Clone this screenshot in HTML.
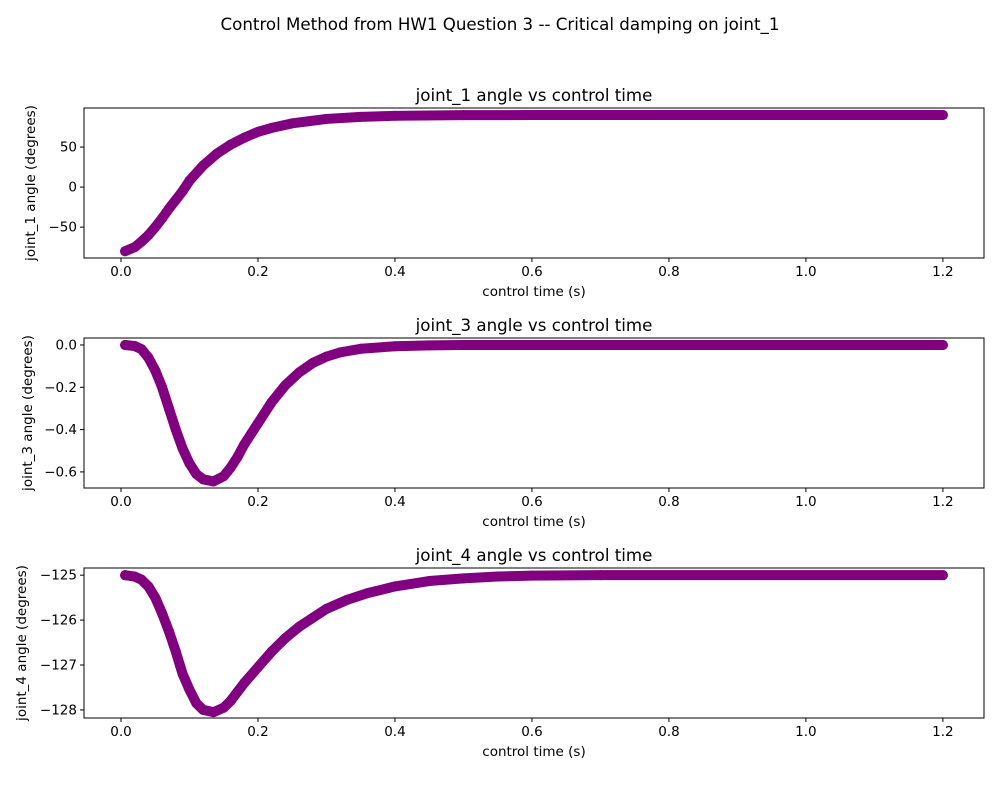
<!DOCTYPE html>
<html><head><meta charset="utf-8">
<style>
body{margin:0;background:#fff;font-family:"Liberation Sans","DejaVu Sans",sans-serif;}
svg text{font-family:"DejaVu Sans","Liberation Sans",sans-serif;}
</style></head>
<body>
<svg id="fig" width="1000" height="800" viewBox="0 0 1000 800">
<rect width="1000" height="800" fill="#fff"/>
<text x="500" y="30" text-anchor="middle" font-size="16.67">Control Method from HW1 Question 3 -- Critical damping on joint_1</text>
</svg>
<script>
const times1 = [0.006,0.02,0.03,0.04,0.05,0.06,0.07,0.08,0.09,0.1,0.12,0.14,0.16,0.18,0.2,0.22,0.25,0.3,0.35,0.4,0.5,0.6,1.2];
const joint1 = [-80,-75,-68,-60,-50,-39,-27,-16,-5,8,27,41.8,53,61.7,69,73.9,79.6,85.1,87.7,89,89.8,90,90];
const times3 = [0.006,0.02,0.03,0.04,0.05,0.06,0.07,0.08,0.09,0.1,0.11,0.12,0.135,0.15,0.16,0.17,0.18,0.19,0.2,0.22,0.24,0.26,0.28,0.3,0.32,0.35,0.4,0.45,0.5,1.2];
const joint3 = [0,-0.005,-0.02,-0.06,-0.12,-0.2,-0.3,-0.4,-0.49,-0.56,-0.61,-0.635,-0.645,-0.62,-0.58,-0.53,-0.47,-0.42,-0.37,-0.27,-0.19,-0.13,-0.085,-0.055,-0.035,-0.018,-0.006,-0.002,0,0];
const times4 = [0.006,0.02,0.03,0.04,0.05,0.06,0.07,0.08,0.09,0.1,0.11,0.12,0.135,0.15,0.16,0.17,0.18,0.2,0.22,0.24,0.26,0.28,0.3,0.33,0.36,0.4,0.45,0.5,0.55,0.6,0.7,1.2];
const joint4 = [-125,-125.03,-125.1,-125.25,-125.5,-125.85,-126.25,-126.7,-127.2,-127.55,-127.85,-128.0,-128.05,-127.95,-127.8,-127.6,-127.4,-127.05,-126.7,-126.4,-126.15,-125.95,-125.75,-125.55,-125.4,-125.25,-125.13,-125.07,-125.03,-125.01,-125,-125];
const xTicks = [0.0,0.2,0.4,0.6,0.8,1.0,1.2];
const yTicks1 = [-50,0,50];
const yTicks3 = [-0.6,-0.4,-0.2,0.0];
const yTicks4 = [-128,-127,-126,-125];

const NS='http://www.w3.org/2000/svg';
const svg=document.getElementById('fig');
function mk(tag,attrs,parent){const e=document.createElementNS(NS,tag);for(const k in attrs)e.setAttribute(k,attrs[k]);(parent||svg).appendChild(e);return e;}
const L=84,R=984,xmin=-0.054,xmax=1.26;
const xs=v=>L+(v-xmin)/(xmax-xmin)*(R-L);

function panel(name,top,ymin,ymax,times,vals,yt,fmt,ylabel,title){
  const bot=top+150;
  const ys=v=>bot-(v-ymin)/(ymax-ymin)*150;
  const g=mk('g',{});
  
  
  const clip=mk('clipPath',{id:'c'+name},g);
  mk('rect',{x:L,y:top,width:R-L,height:150},clip);
  const sg=mk('g',{'clip-path':'url(#c'+name+')'},g);
  
  
  const pts=times.map((t,i)=>xs(t)+','+ys(vals[i])).join(' ');
  const pl=mk('polyline',{points:pts,fill:'none',stroke:'#800080','stroke-width':10,'stroke-linejoin':'round','stroke-linecap':'round'},sg);
  
  
  times.forEach((t,i)=>{const c=mk('circle',{cx:xs(t),cy:ys(vals[i]),r:5,fill:'#800080'},sg);
    
    });
  const fr=mk('rect',{x:L,y:top,width:R-L,height:150,fill:'none',stroke:'#000','stroke-width':1},g);
  
  
  xTicks.forEach(v=>{const x=xs(v);mk('line',{x1:x,x2:x,y1:bot,y2:bot+4,stroke:'#000'},g);
    const t=mk('text',{x:x,y:bot+18,'text-anchor':'middle','font-size':13.5},g);t.textContent=v.toFixed(1);
    
    });
  yt.forEach(v=>{const y=ys(v);mk('line',{x1:L-4,x2:L,y1:y,y2:y,stroke:'#000'},g);
    const t=mk('text',{x:L-7,y:y+4.5,'text-anchor':'end','font-size':13.5},g);t.textContent=fmt(v);
    
    });
  const xl=mk('text',{x:(L+R)/2,y:bot+38,'text-anchor':'middle','font-size':13.5},g);xl.textContent='control time (s)';
  
  
  const yl=mk('text',{x:0,y:0,'text-anchor':'middle','font-size':13.5,transform:'translate('+ylabel[1]+','+(top+75)+') rotate(-90)'},g);yl.textContent=ylabel[0];
  
  
  const ti=mk('text',{x:(L+R)/2,y:top-7,'text-anchor':'middle','font-size':16.67},g);ti.textContent=title;
  
  
}
const minus=s=>s.replace('-','\u2212');
panel('joint1',108,-88.5,98.75,times1,joint1,yTicks1,v=>minus(String(v)),['joint_1 angle (degrees)',35],'joint_1 angle vs control time');
panel('joint3',338,-0.676,0.033,times3,joint3,yTicks3,v=>minus(v.toFixed(1)),['joint_3 angle (degrees)',32],'joint_3 angle vs control time');
panel('joint4',568,-128.18,-124.84,times4,joint4,yTicks4,v=>minus(String(v)),['joint_4 angle (degrees)',26],'joint_4 angle vs control time');
</script>
</body></html>
